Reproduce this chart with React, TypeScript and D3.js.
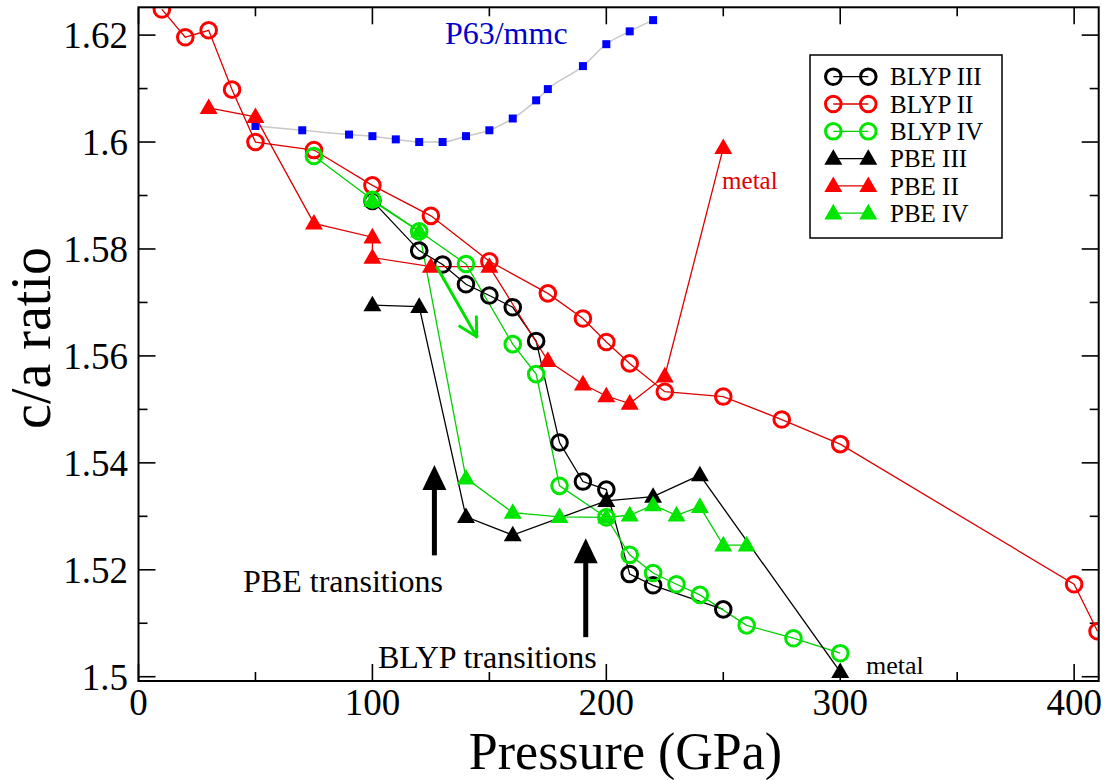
import React from "react";
import * as d3 from "d3";

// ---- Data (pressure GPa, c/a ratio) ----
const blypIII: [number, number][] = [
  [100, 1.589], [120, 1.5797], [130, 1.5771], [140, 1.5734], [150, 1.5713], [160, 1.5691],
  [170, 1.5628], [180, 1.5438], [190, 1.5365], [200, 1.535], [210, 1.5192], [220, 1.5171], [250, 1.5126],
];
const blypII: [number, number][] = [
  [10, 1.6248], [20, 1.6196], [30, 1.6209], [40, 1.6098], [50, 1.6], [75, 1.5985], [100, 1.5919],
  [125, 1.5862], [150, 1.5777], [175, 1.5717], [190, 1.567], [200, 1.5626], [210, 1.5586],
  [225, 1.5533], [250, 1.5524], [275, 1.5481], [300, 1.5435], [400, 1.5173], [410, 1.5085],
];
const blypIV: [number, number][] = [
  [75, 1.5974], [100, 1.5892], [120, 1.5833], [140, 1.5772], [160, 1.5622], [170, 1.5566],
  [180, 1.5357], [200, 1.5298], [210, 1.5228], [220, 1.5194], [230, 1.5173], [240, 1.5153],
  [260, 1.5096], [280, 1.5072], [300, 1.5044],
];
const pbeIII: [number, number][] = [
  [100, 1.5695], [120, 1.5692], [140, 1.5299], [160, 1.5265], [200, 1.5329], [220, 1.5337],
  [240, 1.5377], [300, 1.5009],
];
const pbeII: [number, number][] = [
  [30, 1.6064], [50, 1.6047], [75, 1.5848], [100, 1.5822], [100, 1.5784], [125, 1.5767],
  [150, 1.5767], [175, 1.5591], [190, 1.5547], [200, 1.5525], [210, 1.5511], [225, 1.5562], [250, 1.5989],
];
const pbeIV: [number, number][] = [
  [100, 1.589], [120, 1.5833], [140, 1.5371], [160, 1.5307], [180, 1.5299], [200, 1.5298],
  [210, 1.5302], [220, 1.5321], [230, 1.5302], [240, 1.5318], [250, 1.5246], [260, 1.5246],
];
const p63mmc: [number, number][] = [
  [50, 1.603], [70, 1.6022], [90, 1.6014], [100, 1.6011], [110, 1.6005], [120, 1.6], [130, 1.6],
  [140, 1.6011], [150, 1.6022], [160, 1.6044], [170, 1.6078], [175, 1.6099], [190, 1.6142],
  [200, 1.6183], [210, 1.6207], [220, 1.6228],
];

const xMajorTicks = [0, 100, 200, 300, 400];
const xMinorTicks = [50, 150, 250, 350];
const yMajorTicks = [1.5, 1.52, 1.54, 1.56, 1.58, 1.6, 1.62];
const yMinorTicks = [1.51, 1.53, 1.55, 1.57, 1.59, 1.61];
const yTickLabels = ["1.5", "1.52", "1.54", "1.56", "1.58", "1.6", "1.62"];

// annotation anchors in data units
const blackArrows = [
  { x: 126.5, from: 1.5227, to: 1.5396 },
  { x: 191.2, from: 1.5074, to: 1.5259 },
];
const greenArrow = { x0: 127.6, y0: 1.5766, x1: 144.6, y1: 1.5636 };
const textNotes = [
  { text: "PBE transitions", x: 44.7, y: 1.5159, size: 32, color: "#000" },
  { text: "BLYP transitions", x: 102.4, y: 1.5016, size: 32, color: "#000" },
  { text: "metal", x: 311, y: 1.5006, size: 26, color: "#000" },
  { text: "metal", x: 249.5, y: 1.5913, size: 25, color: "#e00000" },
  { text: "P63/mmc", x: 131, y: 1.6184, size: 32, color: "#0000cc" },
];

const RED = "#ff0000";
const GREEN = "#00e600";
const BLACK = "#000000";

type Series = { name: string; data: [number, number][]; color: string; line: string; kind: "circle" | "triangle" };
const series: Series[] = [
  { name: "BLYP III", data: blypIII, color: BLACK, line: BLACK, kind: "circle" },
  { name: "BLYP II", data: blypII, color: RED, line: "#dd0000", kind: "circle" },
  { name: "BLYP IV", data: blypIV, color: GREEN, line: "#00d000", kind: "circle" },
  { name: "PBE III", data: pbeIII, color: BLACK, line: BLACK, kind: "triangle" },
  { name: "PBE II", data: pbeII, color: RED, line: "#dd0000", kind: "triangle" },
  { name: "PBE IV", data: pbeIV, color: GREEN, line: "#00d000", kind: "triangle" },
];

const W = 1113;
const H = 780;
const L = 138.5, R = 1098.7, T = 7.3, B = 681;
const FONT = "'Liberation Serif', 'Times New Roman', serif";

const x = d3.scaleLinear().domain([0, 410.5]).range([L, R]);
const y = d3.scaleLinear().domain([1.4992, 1.6252]).range([B, T]);

const triPath = d3.symbol().type(d3.symbolTriangle).size(140)() as string;

function Marker({ kind, color, cx, cy }: { kind: string; color: string; cx: number; cy: number }) {
  if (kind === "circle")
    return <circle cx={cx} cy={cy} r={7.8} fill="none" stroke={color} strokeWidth={3} />;
  return <path d={triPath} transform={`translate(${cx},${cy + 1})`} fill={color} />;
}

export default function App() {
  const line = d3.line<[number, number]>().x((d) => x(d[0])).y((d) => y(d[1]));
  const smooth = d3
    .line<[number, number]>()
    .x((d) => x(d[0]))
    .y((d) => y(d[1]))
    .curve(d3.curveMonotoneX);

  const ga = greenArrow;
  const gx0 = x(ga.x0), gy0 = y(ga.y0), gx1 = x(ga.x1), gy1 = y(ga.y1);
  const ang = Math.atan2(gy1 - gy0, gx1 - gx0);
  const headLen = 20;
  const a1 = ang + Math.PI - 0.5, a2 = ang + Math.PI + 0.5;

  const legX = 810, legY = 55, legW = 192, legH = 183;
  const rowY = (i: number) => 76.7 + i * 27.3;

  return (
    <svg
      width={W}
      height={H}
      style={{ position: "absolute", left: 0, top: 0, background: "#fff" }}
      fontFamily={FONT}
    >
      <rect x={0} y={0} width={W} height={H} fill="#fff" />
      <defs>
        <clipPath id="plotclip">
          <rect x={L} y={T} width={R - L} height={B - T} />
        </clipPath>
      </defs>

      {/* ticks */}
      <g stroke="#000" strokeWidth={1.6}>
        {xMajorTicks.map((t) => (
          <g key={"xM" + t}>
            <line x1={x(t)} x2={x(t)} y1={B} y2={B - 17} />
            <line x1={x(t)} x2={x(t)} y1={T} y2={T + 17} />
          </g>
        ))}
        {xMinorTicks.map((t) => (
          <g key={"xm" + t}>
            <line x1={x(t)} x2={x(t)} y1={B} y2={B - 9} />
            <line x1={x(t)} x2={x(t)} y1={T} y2={T + 9} />
          </g>
        ))}
        {yMajorTicks.map((t) => (
          <g key={"yM" + t}>
            <line x1={L} x2={L + 17} y1={y(t)} y2={y(t)} />
            <line x1={R} x2={R - 17} y1={y(t)} y2={y(t)} />
          </g>
        ))}
        {yMinorTicks.map((t) => (
          <g key={"ym" + t}>
            <line x1={L} x2={L + 9} y1={y(t)} y2={y(t)} />
            <line x1={R} x2={R - 9} y1={y(t)} y2={y(t)} />
          </g>
        ))}
      </g>

      {/* tick labels */}
      <g fontSize={37} fill="#000">
        {xMajorTicks.map((t) => (
          <text key={"xl" + t} x={x(t)} y={715} textAnchor="middle">
            {t}
          </text>
        ))}
        {yMajorTicks.map((t, i) => (
          <text key={"yl" + t} x={128} y={y(t)} dy="0.36em" textAnchor="end">
            {yTickLabels[i]}
          </text>
        ))}
      </g>

      {/* axis titles */}
      <text x={625.5} y={769} fontSize={52} textAnchor="middle">
        Pressure (GPa)
      </text>
      <text transform="translate(50,338) rotate(-90)" fontSize={56} textAnchor="middle">
        c/a ratio
      </text>

      <g clipPath="url(#plotclip)">
        {/* P63/mmc */}
        <path d={smooth(p63mmc) as string} fill="none" stroke="#c8c8c8" strokeWidth={1.5} />
        {p63mmc.map((d, i) => (
          <rect key={"sq" + i} x={x(d[0]) - 4} y={y(d[1]) - 4} width={8} height={8} fill="#0000ff" />
        ))}

        {/* series lines */}
        {series.map((s) => (
          <path key={"ln" + s.name} d={line(s.data) as string} fill="none" stroke={s.line} strokeWidth={1.3} />
        ))}
        {/* markers */}
        {series.map((s) =>
          s.data.map((d, i) => (
            <Marker key={s.name + i} kind={s.kind} color={s.color} cx={x(d[0])} cy={y(d[1])} />
          ))
        )}

        {/* black arrows */}
        {blackArrows.map((a, i) => {
          const ax = x(a.x), ay0 = y(a.from), ay1 = y(a.to);
          return (
            <g key={"ar" + i}>
              <line x1={ax} x2={ax} y1={ay0} y2={ay1 + 20} stroke="#000" strokeWidth={5} />
              <path d={`M${ax},${ay1} L${ax - 12},${ay1 + 25} L${ax + 12},${ay1 + 25} Z`} fill="#000" />
            </g>
          );
        })}

        {/* green arrow */}
        <g stroke="#00e000" strokeWidth={3} fill="none" strokeLinecap="round">
          <line x1={gx0} y1={gy0} x2={gx1} y2={gy1} />
          <line x1={gx1} y1={gy1} x2={gx1 + headLen * Math.cos(a1)} y2={gy1 + headLen * Math.sin(a1)} />
          <line x1={gx1} y1={gy1} x2={gx1 + headLen * Math.cos(a2)} y2={gy1 + headLen * Math.sin(a2)} />
        </g>
      </g>

      {/* text notes */}
      {textNotes.map((n, i) => (
        <text key={"tn" + i} x={x(n.x)} y={y(n.y)} fontSize={n.size} fill={n.color}>
          {n.text}
        </text>
      ))}

      {/* frame */}
      <rect x={L} y={T} width={R - L} height={B - T} fill="none" stroke="#000" strokeWidth={2} />

      {/* legend */}
      <rect x={legX} y={legY} width={legW} height={legH} fill="#fff" stroke="#000" strokeWidth={1.5} />
      {series.map((s, i) => {
        const ry = rowY(i);
        return (
          <g key={"lg" + s.name}>
            <line x1={833.3} x2={868.3} y1={ry} y2={ry} stroke={s.line} strokeWidth={1.3} />
            <Marker kind={s.kind} color={s.color} cx={833.3} cy={ry} />
            <Marker kind={s.kind} color={s.color} cx={868.3} cy={ry} />
            <text x={890} y={ry} dy="0.35em" fontSize={25}>
              {s.name}
            </text>
          </g>
        );
      })}
    </svg>
  );
}
